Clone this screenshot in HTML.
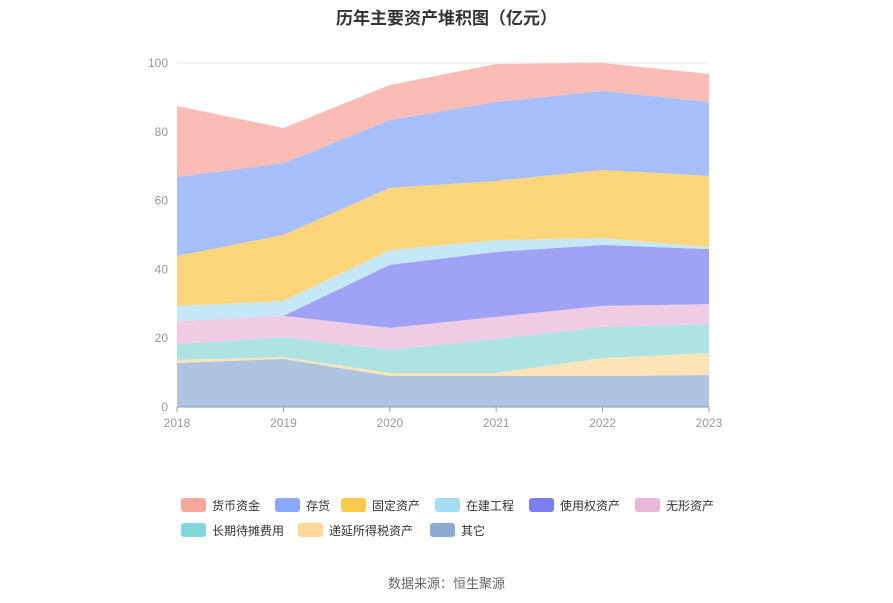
<!DOCTYPE html>
<html><head><meta charset="utf-8"><style>
body{margin:0;background:#fff;font-family:"Liberation Sans","Noto Sans CJK SC",sans-serif;}
#wrap{position:relative;width:893px;height:603px;overflow:hidden}
.lg{position:absolute;font-size:12px;color:#333;display:flex;align-items:center;height:16px}
.sw{width:25px;height:14px;border-radius:3px;margin-right:6px}
</style></head><body>
<div id="wrap">
<div style="position:absolute;top:4px;left:0;width:893px;text-align:center;font-size:17px;font-weight:bold;color:#333">历年主要资产堆积图（亿元）</div>
<svg id="chart" width="893" height="470" style="position:absolute;left:0;top:0"></svg>
<div id="legend"></div>
<div style="position:absolute;top:573px;left:0;width:893px;text-align:center;font-size:13px;color:#666">数据来源：恒生聚源</div>
</div>
<script>
const years=["2018","2019","2020","2021","2022","2023"];
const yTicks=[0,20,40,60,80,100];
const seriesNames=["其它","递延所得税资产","长期待摊费用","无形资产","使用权资产","在建工程","固定资产","存货","货币资金"];
const sQita=[12.8,14.0,9.0,9.0,9.0,9.3];
const sDiyan=[0.9,0.5,0.9,0.9,5.2,6.4];
const sChangqi=[4.6,5.8,6.7,9.9,9.1,8.4];
const sWuxing=[6.7,6.2,6.4,6.4,6.1,5.8];
const sShiyong=[0,0,18.3,18.9,17.7,16.0];
const sZaijian=[4.4,4.3,4.3,3.4,2.0,0.6];
const sGuding=[14.5,19.2,18.1,17.2,19.8,20.7];
const sCunhuo=[23.0,20.9,19.7,23.0,23.0,21.5];
const sHuobi=[20.6,10.2,10.2,11.0,8.1,8.1];
const seriesData=[sQita,sDiyan,sChangqi,sWuxing,sShiyong,sZaijian,sGuding,sCunhuo,sHuobi];
const fills=["#afc3e2","#fde3b8","#ade3e2","#efcce3","#a0a2f6","#c4e8f8","#fdd57a","#a8bffd","#fcbcb6"];
const legendColors=["#8caad6","#fdd89b","#80d8d8","#e8b6d8","#7b7ff2","#a5dcf6","#fcc94d","#8aa8fb","#fba69a"];
const NS="http://www.w3.org/2000/svg";
const svg=document.getElementById("chart");
const x0=177,x1=709,yBase=407,yTop=63,yMax=100;
function xs(i){return x0+(x1-x0)*i/(years.length-1);}
function ys(v){return yBase-(yBase-yTop)*v/yMax;}
function mk(t,a){const e=document.createElementNS(NS,t);for(const k in a)e.setAttribute(k,a[k]);svg.appendChild(e);return e;}
yTicks.forEach(t=>{
 const l=mk("line",{x1:x0,x2:x1,y1:ys(t),y2:ys(t),stroke:"#e6e6e6","stroke-width":1});
 
 
 const tx=mk("text",{x:168,y:ys(t)+4,"text-anchor":"end","font-size":12,fill:"#999"});
 tx.textContent=t;
 
 
});
let cum=years.map(()=>0);
seriesData.forEach((s,si)=>{
 const lower=cum.slice();
 const upper=cum.map((c,i)=>c+s[i]);
 let d="";
 upper.forEach((v,i)=>{d+=(i?"L":"M")+xs(i)+","+ys(v);});
 for(let i=years.length-1;i>=0;i--)d+="L"+xs(i)+","+ys(lower[i]);
 const p=mk("path",{d:d+"Z",fill:fills[si],stroke:"none"});
 
 
 cum=upper;
});
const ax=mk("line",{x1:x0,x2:x1,y1:yBase,y2:yBase,stroke:"#8a9bb8","stroke-width":1});


years.forEach((y,i)=>{
 const tk=mk("line",{x1:xs(i),x2:xs(i),y1:yBase,y2:yBase+5,stroke:"#8a9bb8"});
 
 
 const t=mk("text",{x:xs(i),y:427,"text-anchor":"middle","font-size":12,fill:"#999"});
 t.textContent=y;
 
 
});
const legPos=[[430,530],[298,530],[181,530],[635,505],[529,505],[435,505],[341,505],[275,505],[181,505]];
const leg=document.getElementById("legend");
const order=[8,7,6,5,4,3,2,1,0];
order.forEach(si=>{
 const d=document.createElement("div");
 d.className="lg";
 d.style.left=legPos[si][0]+"px";d.style.top=(legPos[si][1]-8)+"px";
 d.innerHTML='<span class="sw" style="background:'+legendColors[si]+'"></span>'+seriesNames[si];
 
 
 leg.appendChild(d);
});
</script>
</body></html>
